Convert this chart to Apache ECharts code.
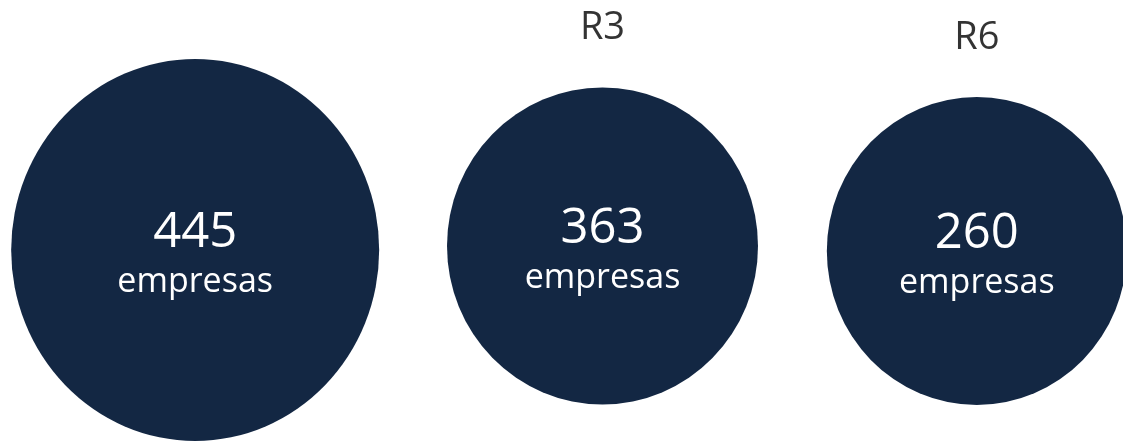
<!DOCTYPE html>
<html>
<head>
<meta charset="utf-8">
<script src="https://cdn.jsdelivr.net/npm/echarts@6/dist/echarts.min.js"></script>
<style>
  html, body { margin: 0; padding: 0; background: #ffffff; }
  #chart { width: 1123px; height: 442px; }
</style>
</head>
<body>
<div id="chart"></div>
<script>
// ---- data ----
var categories = ["", "R3", "R6"];          // first group's title lies outside the visible area
var companies = [445, 363, 260];
var unitLabel = "empresas";

// ---- layout / style (not data) ----
var bubbleSizes = [[368, 382], [311, 317], [300, 308]];
var bubbleOffsets = [[8, 0], [41, -4], [41, 1]];
var navy = "#132743";
var fontFamily = "'Open Sans', 'Noto Sans', sans-serif";

var chart = echarts.init(document.getElementById('chart'), null, { renderer: 'canvas' });

chart.setOption({
  animation: false,
  backgroundColor: '#ffffff',
  grid: { left: 0, top: 58, right: 0, bottom: 0, containLabel: false },
  xAxis: {
    type: 'category',
    data: categories.map(function (c, i) { return String(i); }),
    boundaryGap: true,
    show: false
  },
  yAxis: { type: 'value', min: -1, max: 1, show: false },
  series: [
    {
      type: 'scatter',
      symbol: 'circle',
      data: companies.map(function (v, i) {
        return { value: [i, 0], symbolSize: bubbleSizes[i], symbolOffset: bubbleOffsets[i] };
      }),
      itemStyle: { color: navy, opacity: 1 },
      emphasis: { disabled: true },
      label: {
        show: true,
        position: 'inside',
        offset: [0, 4],
        formatter: function (p) { return '{n|' + companies[p.dataIndex] + '}\n{e|' + unitLabel + '}'; },
        rich: {
          n: { fontFamily: fontFamily, fontSize: 49, color: '#ffffff', lineHeight: 56, align: 'center' },
          e: { fontFamily: fontFamily, fontSize: 34, color: '#ffffff', lineHeight: 42, align: 'center' }
        }
      },
      z: 2
    },
    {
      type: 'scatter',
      symbol: 'circle',
      data: companies.map(function (v, i) {
        return { value: [i, 0], symbolSize: bubbleSizes[i], symbolOffset: bubbleOffsets[i] };
      }),
      itemStyle: { color: 'rgba(0,0,0,0)' },
      emphasis: { disabled: true },
      silent: true,
      label: {
        show: true,
        position: 'top',
        distance: 40,
        formatter: function (p) { return categories[p.dataIndex]; },
        fontFamily: fontFamily,
        fontSize: 38,
        color: '#000000'
      },
      z: 1
    }
  ]
});
</script>
</body>
</html>
